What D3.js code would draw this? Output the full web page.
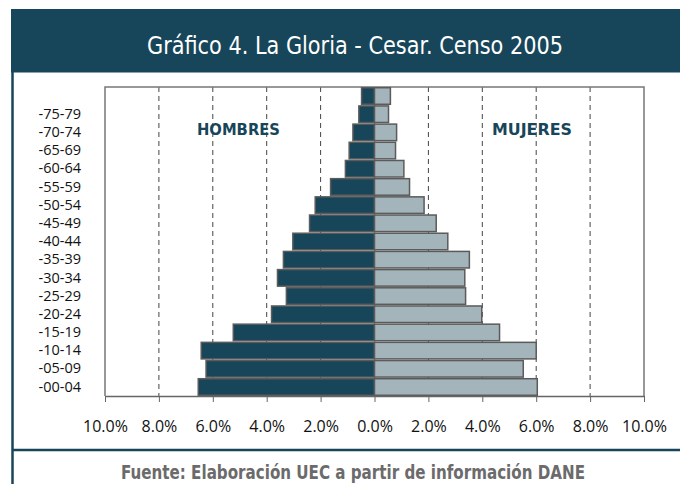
<!DOCTYPE html>
<html>
<head>
<meta charset="utf-8">
<script src="https://cdn.jsdelivr.net/npm/d3@7"></script>
<style>
  body { margin: 0; background: #fff; }
  .tick line { stroke: #666; }
</style>
</head>
<body>
<svg class="chart"></svg>
<script>
// grupos de edad, de abajo hacia arriba (el grupo superior no tiene etiqueta)
var ages = ["00-04","05-09","10-14","15-19","20-24","25-29","30-34","35-39","40-44","45-49","50-54","55-59","60-64","65-69","70-74","75-79","80+"];
var ageLabels = ["-00-04","-05-09","-10-14","-15-19","-20-24","-25-29","-30-34","-35-39","-40-44","-45-49","-50-54","-55-59","-60-64","-65-69","-70-74","-75-79",""];
// porcentaje de la poblacion
var hombres = [6.54, 6.25, 6.43, 5.24, 3.82, 3.27, 3.60, 3.38, 3.03, 2.41, 2.20, 1.63, 1.08, 0.94, 0.80, 0.58, 0.48];
var mujeres = [6.04, 5.52, 6.00, 4.64, 3.98, 3.38, 3.35, 3.52, 2.72, 2.29, 1.84, 1.30, 1.09, 0.78, 0.82, 0.52, 0.59];
var tickValues = [-10, -8, -6, -4, -2, 0, 2, 4, 6, 8, 10];
var tickLabels = ["10.0%","8.0%","6.0%","4.0%","2.0%","0.0%","2.0%","4.0%","6.0%","8.0%","10.0%"];
var gridValues = [-8, -6, -4, -2, 2, 4, 6, 8];

var frameWidth = 680;
var frameHeight = 484;
var pLeft = 105, pRight = 644, pTop = 87, pBottom = 396;
var dark = "#17465a";
var light = "#a3b4bb";

var xScale = d3.scaleLinear().domain([-10, 10]).range([pLeft, pRight]);
var yScale = d3.scaleBand().domain(ages.slice().reverse()).range([pTop, pBottom]).paddingInner(0.09).paddingOuter(0.04);

var data = ages.map(function(a, i) { return {age: a, label: ageLabels[i], h: hombres[i], m: mujeres[i]}; });

var svg = d3.select(".chart")
  .attr("width", frameWidth)
  .attr("height", frameHeight);

// marco y titulo
svg.append("rect")
  .attr("x", 11).attr("y", 9)
  .attr("width", frameWidth - 11).attr("height", 63.5)
  .attr("fill", dark);
svg.append("line")
  .attr("x1", 12.5).attr("x2", 12.5).attr("y1", 70).attr("y2", frameHeight)
  .attr("stroke", dark).attr("stroke-width", 2.5);
svg.append("line")
  .attr("x1", 12).attr("x2", frameWidth).attr("y1", 450).attr("y2", 450)
  .attr("stroke", dark).attr("stroke-width", 2.5);

svg.append("text")
  .attr("x", 355).attr("y", 53.5)
  .attr("text-anchor", "middle")
  .attr("textLength", 416).attr("lengthAdjust", "spacingAndGlyphs")
  .style("font-family", "'DejaVu Sans Condensed', 'DejaVu Sans', sans-serif")
  .style("font-size", "24px")
  .attr("fill", "#fff")
  .text("Gráfico 4. La Gloria - Cesar. Censo 2005");

svg.append("text")
  .attr("x", 353).attr("y", 479)
  .attr("text-anchor", "middle")
  .attr("textLength", 464).attr("lengthAdjust", "spacingAndGlyphs")
  .style("font-family", "'DejaVu Sans Condensed', 'DejaVu Sans', sans-serif")
  .style("font-size", "19px")
  .style("font-weight", "bold")
  .attr("fill", "#6b6b6b")
  .text("Fuente: Elaboración UEC a partir de información DANE");

// lineas de referencia punteadas
svg.append("g").selectAll("line").data(gridValues)
  .enter().append("line")
  .attr("x1", function(d) { return xScale(d); })
  .attr("x2", function(d) { return xScale(d); })
  .attr("y1", pTop).attr("y2", pBottom)
  .attr("stroke", "#444")
  .attr("stroke-dasharray", "5,4");

// borde del area de grafico
svg.append("path")
  .attr("d", "M" + pLeft + "," + pBottom + "V" + pTop + "H" + pRight + "V" + pBottom)
  .attr("fill", "none")
  .attr("stroke", "#777")
  .attr("stroke-width", 1.5);

// barras
svg.append("g").selectAll("rect").data(data)
  .enter().append("rect")
  .attr("x", function(d) { return xScale(-d.h); })
  .attr("y", function(d) { return yScale(d.age); })
  .attr("width", function(d) { return xScale(0) - xScale(-d.h); })
  .attr("height", yScale.bandwidth())
  .attr("fill", dark)
  .attr("stroke", "#5b5b5b")
  .attr("stroke-width", 1.5);

svg.append("g").selectAll("rect").data(data)
  .enter().append("rect")
  .attr("x", xScale(0))
  .attr("y", function(d) { return yScale(d.age); })
  .attr("width", function(d) { return xScale(d.m) - xScale(0); })
  .attr("height", yScale.bandwidth())
  .attr("fill", light)
  .attr("stroke", "#5b5b5b")
  .attr("stroke-width", 1.5);

// eje de edades
var yAxis = svg.append("g")
  .attr("transform", "translate(" + pLeft + ",0)")
  .call(d3.axisLeft(yScale)
    .tickSize(0)
    .tickPadding(24)
    .tickFormat(function(d) { return ageLabels[ages.indexOf(d)]; }));
yAxis.select(".domain").remove();
yAxis.selectAll("text")
  .style("font-family", "'Open Sans', sans-serif")
  .style("font-size", "14.5px")
  .attr("fill", "#111");

// eje horizontal
var xAxis = svg.append("g")
  .attr("transform", "translate(0," + pBottom + ")")
  .call(d3.axisBottom(xScale)
    .tickValues(tickValues)
    .tickSize(6)
    .tickSizeOuter(0)
    .tickPadding(19)
    .tickFormat(function(d, i) { return tickLabels[i]; }));
xAxis.select(".domain").attr("stroke", "#666").attr("stroke-width", 1.5);
xAxis.selectAll("text")
  .style("font-family", "'Open Sans', sans-serif")
  .style("font-size", "16px")
  .attr("fill", "#111");

// leyendas
svg.append("text")
  .attr("x", 238.5).attr("y", 135)
  .attr("text-anchor", "middle")
  .attr("textLength", 83).attr("lengthAdjust", "spacingAndGlyphs")
  .style("font-family", "'DejaVu Sans Condensed', 'DejaVu Sans', sans-serif")
  .style("font-size", "16px")
  .style("font-weight", "bold")
  .attr("fill", dark)
  .text("HOMBRES");

svg.append("text")
  .attr("x", 532).attr("y", 135)
  .attr("text-anchor", "middle")
  .attr("textLength", 80).attr("lengthAdjust", "spacingAndGlyphs")
  .style("font-family", "'DejaVu Sans Condensed', 'DejaVu Sans', sans-serif")
  .style("font-size", "16px")
  .style("font-weight", "bold")
  .attr("fill", dark)
  .text("MUJERES");
</script>
</body>
</html>
